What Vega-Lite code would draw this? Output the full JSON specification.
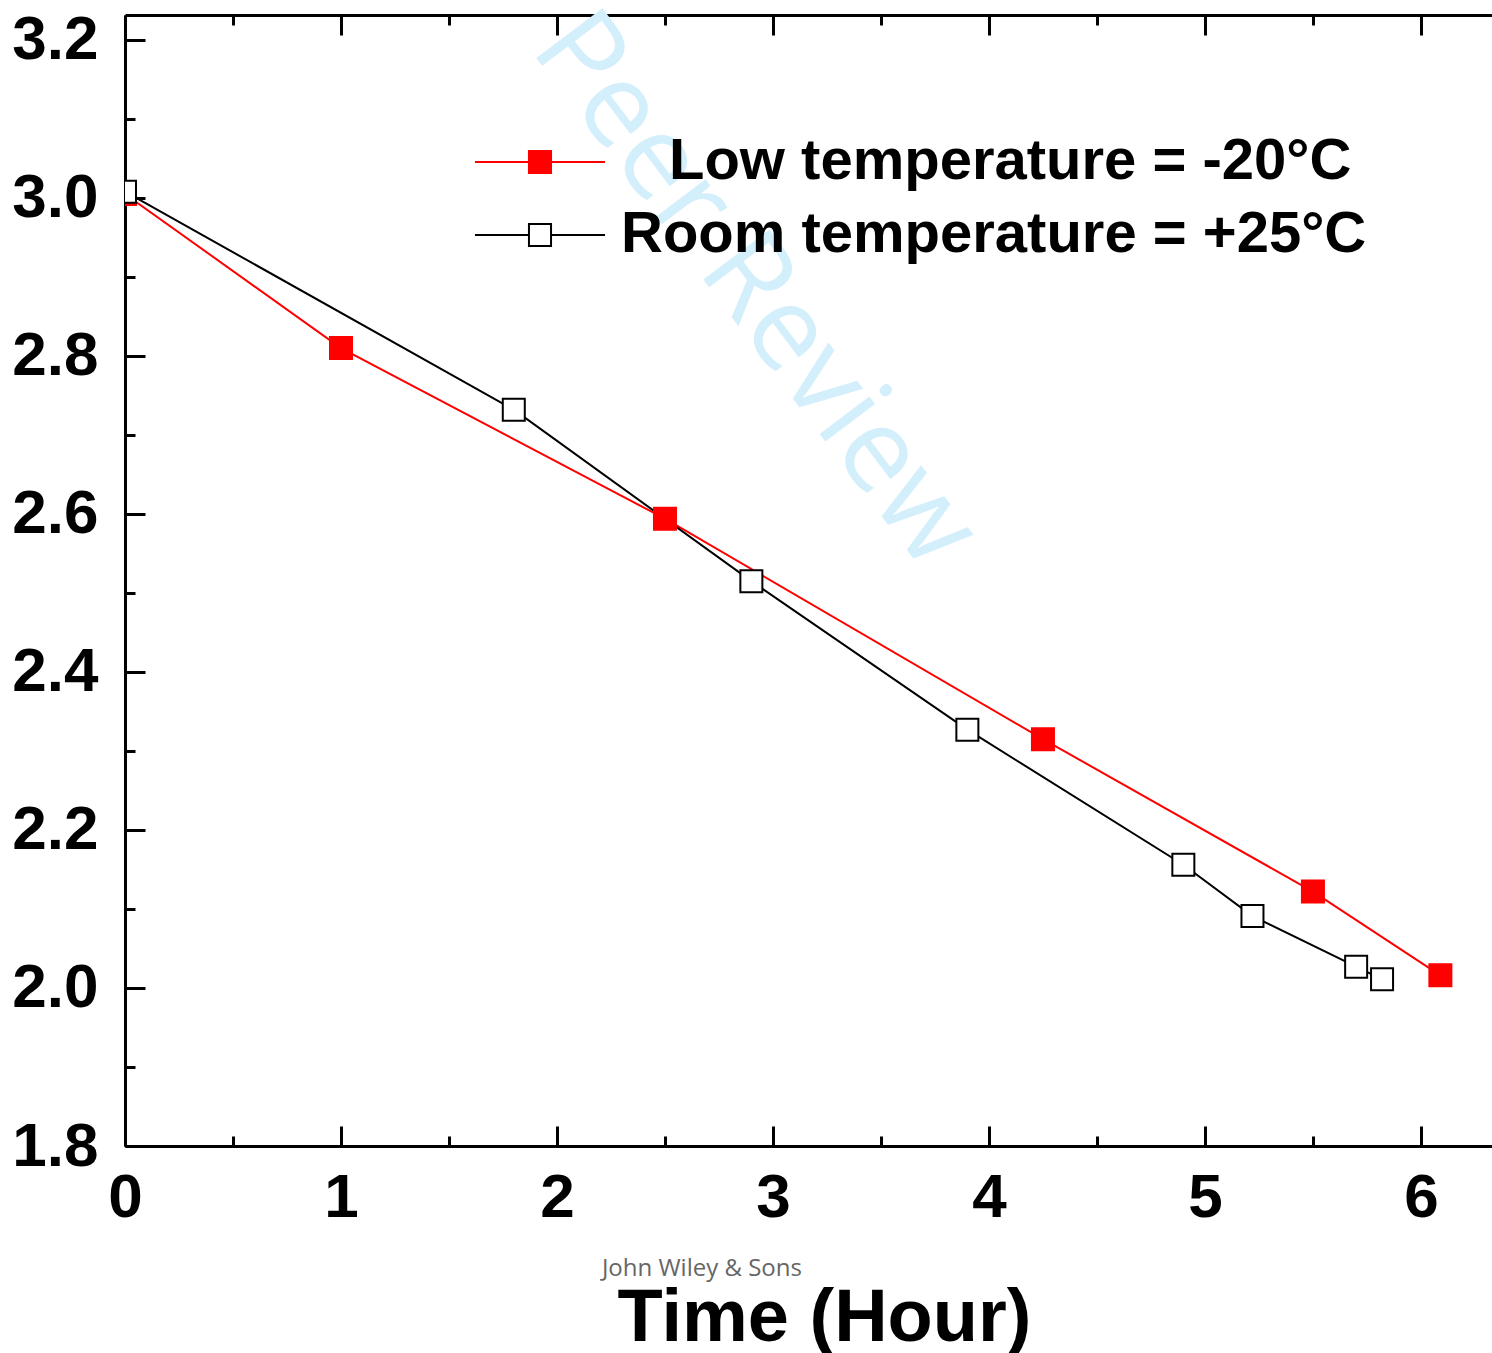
{
  "$schema": "https://vega.github.io/schema/vega-lite/v6.json",
  "width": 1367,
  "height": 1131,
  "autosize": {"type": "none"},
  "padding": {"left": 125, "top": 15, "right": 0, "bottom": 207},
  "background": "white",
  "config": {
    "view": {"stroke": null},
    "axis": {
      "grid": false,
      "domainColor": "black",
      "domainWidth": 3,
      "tickColor": "black",
      "tickWidth": 3,
      "labelFont": "Liberation Sans",
      "labelFontWeight": "bold",
      "labelFontSize": 62,
      "labelColor": "black",
      "titleFont": "Liberation Sans",
      "titleFontWeight": "bold",
      "titleFontSize": 74,
      "titleColor": "black",
      "labelOverlap": false,
      "labelFlush": false
    }
  },
  "data": {
    "values": [
      {"series": "Low temperature = -20°C", "t": 0, "v": 3.005},
      {"series": "Low temperature = -20°C", "t": 1, "v": 2.81},
      {"series": "Low temperature = -20°C", "t": 2.5, "v": 2.594},
      {"series": "Low temperature = -20°C", "t": 4.25, "v": 2.315},
      {"series": "Low temperature = -20°C", "t": 5.5, "v": 2.122},
      {"series": "Low temperature = -20°C", "t": 6.09, "v": 2.016},
      {"series": "Room temperature = +25°C", "t": 0, "v": 3.008},
      {"series": "Room temperature = +25°C", "t": 1.8, "v": 2.732},
      {"series": "Room temperature = +25°C", "t": 2.9, "v": 2.515},
      {"series": "Room temperature = +25°C", "t": 3.9, "v": 2.327},
      {"series": "Room temperature = +25°C", "t": 4.9, "v": 2.156},
      {"series": "Room temperature = +25°C", "t": 5.22, "v": 2.091},
      {"series": "Room temperature = +25°C", "t": 5.7, "v": 2.027},
      {"series": "Room temperature = +25°C", "t": 5.82, "v": 2.011}
    ]
  },
  "resolve": {"axis": {"x": "independent", "y": "independent"}},
  "layer": [
    {
      "data": {"values": [{"label": "Peer Review"}]},
      "mark": {"type": "text", "font": "Open Sans", "fontSize": 116, "color": "#d3effb", "angle": 53, "align": "center", "baseline": "middle"},
      "encoding": {
        "x": {"datum": 2.917, "type": "quantitative", "scale": {"domain": [0, 6.329], "nice": false, "zero": false},
          "axis": {"orient": "bottom", "values": [0.5, 1.5, 2.5, 3.5, 4.5, 5.5], "tickSize": -10, "labels": false, "domain": false, "title": null}},
        "y": {"datum": 2.8835, "type": "quantitative", "scale": {"domain": [1.8, 3.2316], "nice": false, "zero": false}, "axis": null},
        "text": {"field": "label"}
      }
    },
    {
      "mark": {"type": "line", "strokeWidth": 2, "clip": true},
      "encoding": {
        "x": {"field": "t", "type": "quantitative", "scale": {"domain": [0, 6.329], "nice": false, "zero": false},
          "axis": {"orient": "bottom", "values": [0, 1, 2, 3, 4, 5, 6], "format": "d", "tickSize": -20, "labelPadding": 41, "domain": true, "title": "Time (Hour)", "titleX": 699, "titleY": 194, "titleAlign": "center", "titleBaseline": "alphabetic"}},
        "y": {"field": "v", "type": "quantitative", "scale": {"domain": [1.8, 3.2316], "nice": false, "zero": false},
          "axis": {"orient": "left", "values": [1.8, 2.0, 2.2, 2.4, 2.6, 2.8, 3.0, 3.2], "format": ".1f", "tickSize": -20, "labelPadding": 47, "domain": true, "title": null}},
        "stroke": {"field": "series", "type": "nominal",
          "scale": {"domain": ["Low temperature = -20°C", "Room temperature = +25°C"], "range": ["#ff0000", "#000000"]},
          "legend": {
            "title": null, "orient": "none", "legendX": 386, "legendY": 118,
            "labelFont": "Liberation Sans", "labelFontWeight": "bold", "labelFontSize": 58, "labelColor": "black", "labelLimit": 2000,
            "labelOffset": 52, "rowPadding": 15, "symbolSize": 576, "symbolStrokeWidth": 2,
            "encode": {
              "symbols": {"update": {"shape": {"value": "M-5.42,0H-0.92M0.92,0H5.42M-0.92,-0.92H0.92V0.92H-0.92Z"}, "size": {"value": 576}, "strokeWidth": {"value": 2}}},
              "labels": {"update": {"dx": {"signal": "indexof(datum.label, 'Low') == 0 ? 48 : 0"}}}
            }
          }
        }
      }
    },
    {
      "mark": {"type": "point", "shape": "square", "filled": true, "size": 484, "strokeWidth": 2, "opacity": 1, "clip": true},
      "encoding": {
        "x": {"field": "t", "type": "quantitative", "scale": {"domain": [0, 6.329], "nice": false, "zero": false},
          "axis": {"orient": "top", "values": [0, 1, 2, 3, 4, 5, 6], "tickSize": -20, "labels": false, "domain": true, "title": null}},
        "y": {"field": "v", "type": "quantitative", "scale": {"domain": [1.8, 3.2316], "nice": false, "zero": false},
          "axis": {"orient": "left", "values": [1.9, 2.1, 2.3, 2.5, 2.7, 2.9, 3.1], "tickSize": -10, "labels": false, "domain": false, "title": null}},
        "fill": {"field": "series", "type": "nominal",
          "scale": {"domain": ["Low temperature = -20°C", "Room temperature = +25°C"], "range": ["#ff0000", "#ffffff"]},
          "legend": {
            "title": null, "orient": "none", "legendX": 386, "legendY": 118,
            "labelFont": "Liberation Sans", "labelFontWeight": "bold", "labelFontSize": 58, "labelColor": "black", "labelLimit": 2000,
            "labelOffset": 52, "rowPadding": 15, "symbolSize": 576, "symbolStrokeWidth": 2,
            "encode": {
              "symbols": {"update": {"shape": {"value": "M-5.42,0H-0.92M0.92,0H5.42M-0.92,-0.92H0.92V0.92H-0.92Z"}, "size": {"value": 576}, "strokeWidth": {"value": 2}}},
              "labels": {"update": {"dx": {"signal": "indexof(datum.label, 'Low') == 0 ? 48 : 0"}}}
            }
          }
        },
        "stroke": {"field": "series", "type": "nominal",
          "scale": {"domain": ["Low temperature = -20°C", "Room temperature = +25°C"], "range": ["#ff0000", "#000000"]},
          "legend": {
            "title": null, "orient": "none", "legendX": 386, "legendY": 118,
            "labelFont": "Liberation Sans", "labelFontWeight": "bold", "labelFontSize": 58, "labelColor": "black", "labelLimit": 2000,
            "labelOffset": 52, "rowPadding": 15, "symbolSize": 576, "symbolStrokeWidth": 2,
            "encode": {
              "symbols": {"update": {"shape": {"value": "M-5.42,0H-0.92M0.92,0H5.42M-0.92,-0.92H0.92V0.92H-0.92Z"}, "size": {"value": 576}, "strokeWidth": {"value": 2}}},
              "labels": {"update": {"dx": {"signal": "indexof(datum.label, 'Low') == 0 ? 48 : 0"}}}
            }
          }
        }
      }
    },
    {
      "data": {"values": [{"label": "John Wiley & Sons"}]},
      "mark": {"type": "text", "font": "Open Sans", "fontSize": 24, "color": "#666666", "align": "center", "baseline": "alphabetic"},
      "encoding": {
        "x": {"datum": 2.671, "type": "quantitative", "scale": {"domain": [0, 6.329], "nice": false, "zero": false},
          "axis": {"orient": "top", "values": [0.5, 1.5, 2.5, 3.5, 4.5, 5.5], "tickSize": -10, "labels": false, "domain": false, "title": null}},
        "y": {"datum": 1.6354, "type": "quantitative", "scale": {"domain": [1.8, 3.2316], "nice": false, "zero": false}, "axis": null},
        "text": {"field": "label"}
      }
    }
  ]
}
